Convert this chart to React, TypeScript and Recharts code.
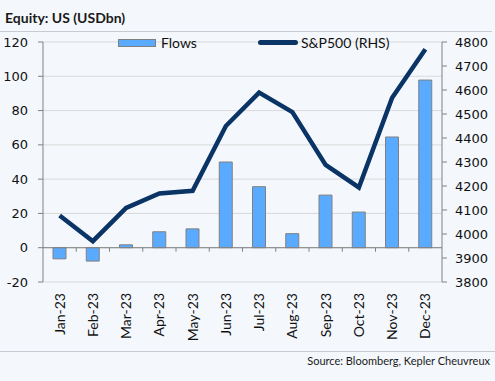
import React from "react";
import {
  ComposedChart,
  Bar,
  Line,
  XAxis,
  YAxis,
  CartesianGrid,
  Legend,
  ReferenceLine,
} from "recharts";

const months = ["Jan-23", "Feb-23", "Mar-23", "Apr-23", "May-23", "Jun-23", "Jul-23", "Aug-23", "Sep-23", "Oct-23", "Nov-23", "Dec-23"];
const flows = [-6.5, -7.8, 1.7, 9.3, 11, 50, 35.6, 8.2, 30.7, 20.8, 64.6, 97.8];
const sp500 = [4077, 3970, 4109, 4169, 4180, 4450, 4589, 4508, 4288, 4194, 4568, 4770];
const flowTicks = [-20, 0, 20, 40, 60, 80, 100, 120];
const spTicks = [3800, 3900, 4000, 4100, 4200, 4300, 4400, 4500, 4600, 4700, 4800];

const data = months.map((m, i) => ({ month: m, flows: flows[i], sp: sp500[i] }));

const BG = "#f4f8fd";
const BAR = "#5aabff";
const NAVY = "#0a3366";
const AXIS = "#808080";
const textFont = "Lato, 'Noto Sans', sans-serif";
const numFont = "'DejaVu Sans', sans-serif";

// zero line with small ticks between the months
const ZeroAxis = (props: any) => {
  const { x1, y1, x2, y2 } = props;
  if (x1 == null) return null;
  const step = (x2 - x1) / months.length;
  return (
    <g>
      <line x1={x1} y1={y1} x2={x2} y2={y2} stroke={AXIS} strokeWidth={1} />
      {months.slice(1).map((_, i) => (
        <line key={i} x1={x1 + step * (i + 1)} y1={y1} x2={x1 + step * (i + 1)} y2={y1 + 4} stroke={AXIS} />
      ))}
    </g>
  );
};

const MonthTick = (props: any) => {
  const { x, y, payload } = props;
  return (
    <text
      x={x}
      y={y}
      transform={`rotate(-90, ${x}, ${y})`}
      textAnchor="end"
      dy="0.35em"
      fontFamily={textFont}
      fontSize={14}
      fill="#111"
    >
      {payload.value}
    </text>
  );
};

const renderLegend = (props: any) => {
  const items = props.payload || [];
  return (
    <div style={{ display: "flex", fontFamily: textFont, fontSize: 14, color: "#111", paddingLeft: 118 }}>
      {items.map((it: any) => (
        <div key={it.value} style={{ display: "flex", alignItems: "center", width: it.type === "line" ? 140 : 140 }}>
          {it.type === "line" ? (
            <span style={{ display: "inline-block", width: 40, height: 5, borderRadius: 3, background: NAVY, marginRight: 3 }} />
          ) : (
            <span style={{ display: "inline-block", width: 36, height: 6, background: BAR, border: `1px solid ${AXIS}`, marginRight: 5 }} />
          )}
          <span>{it.value}</span>
        </div>
      ))}
    </div>
  );
};

export default function App() {
  return (
    <div style={{ position: "fixed", left: 0, top: 0, width: 495, height: 381, background: BG, overflow: "hidden" }}>
      <div style={{ position: "absolute", left: 5, top: 9, fontFamily: textFont, fontWeight: 700, fontSize: 14, color: "#1a1a1a" }}>
        Equity: US (USDbn)
      </div>
      <div style={{ position: "absolute", left: 0, top: 31, width: 492, height: 1, background: "#c8ccd2" }} />
      <div style={{ position: "absolute", left: 0, top: 351, width: 495, height: 1, background: "#c8ccd2" }} />
      <div style={{ position: "absolute", right: 5, top: 354, fontFamily: textFont, fontSize: 11, color: "#1a1a1a" }}>
        Source: Bloomberg, Kepler Cheuvreux
      </div>
      <div style={{ position: "absolute", left: 0, top: 0 }}>
        <ComposedChart width={495} height={381} data={data} margin={{ top: 42, right: 3, left: 3, bottom: 39 }}>
          <CartesianGrid yAxisId="left" vertical={false} stroke="#d9d9d9" />
          <XAxis
            dataKey="month"
            interval={0}
            axisLine={false}
            tickLine={false}
            tickSize={0}
            tickMargin={11}
            height={60}
            tick={<MonthTick />}
          />
          <YAxis
            yAxisId="left"
            domain={[-20, 120]}
            ticks={flowTicks}
            width={40}
            axisLine={{ stroke: AXIS }}
            tickLine={{ stroke: AXIS }}
            tickSize={5}
            tickMargin={10}
            tick={{ fontFamily: numFont, fontSize: 13, fill: "#111" }}
          />
          <YAxis
            yAxisId="right"
            orientation="right"
            domain={[3800, 4800]}
            ticks={spTicks}
            width={50}
            axisLine={{ stroke: AXIS }}
            tickLine={{ stroke: AXIS }}
            tickSize={5}
            tickMargin={8}
            tick={{ fontFamily: numFont, fontSize: 13, fill: "#111" }}
          />
          <Legend
            verticalAlign="middle"
            layout="horizontal"
            content={renderLegend}
            wrapperStyle={{ top: 34, left: 0, width: 495 }}
          />
          <Bar
            yAxisId="left"
            dataKey="flows"
            name="Flows"
            fill={BAR}
            stroke={AXIS}
            strokeWidth={1}
            barSize={13}
            isAnimationActive={false}
            legendType="rect"
          />
          <ReferenceLine yAxisId="left" y={0} shape={<ZeroAxis />} />
          <Line
            yAxisId="right"
            type="linear"
            dataKey="sp"
            name="S&P500 (RHS)"
            stroke={NAVY}
            strokeWidth={4.5}
            dot={false}
            activeDot={false}
            isAnimationActive={false}
            legendType="line"
          />
        </ComposedChart>
      </div>
    </div>
  );
}
